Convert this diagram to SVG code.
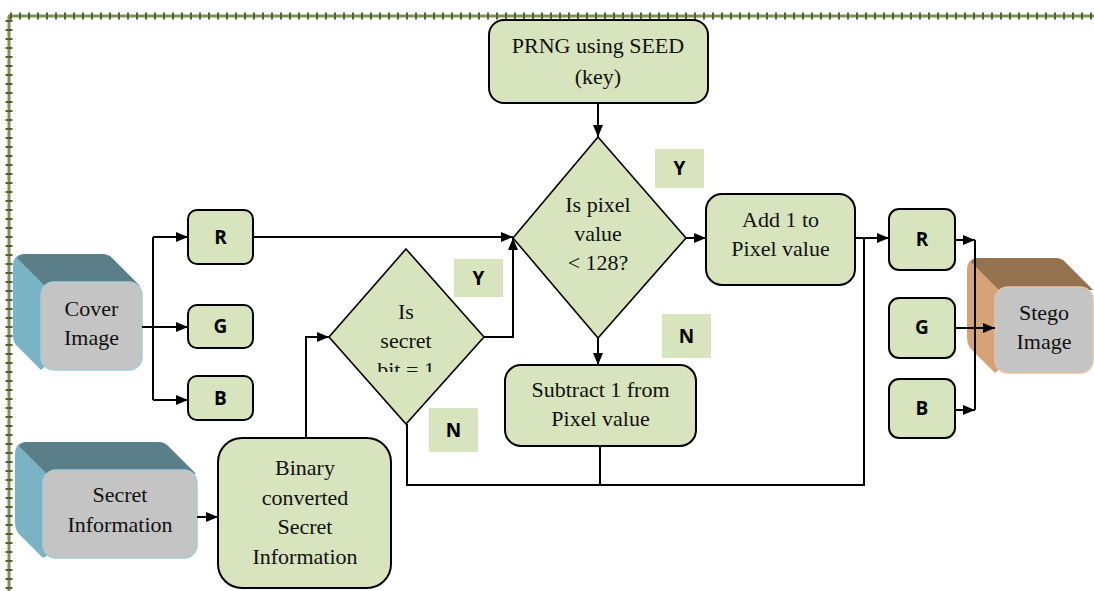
<svg xmlns="http://www.w3.org/2000/svg" width="1094" height="591" viewBox="0 0 1094 591">
  <defs>
    <style>
      .box { fill: #d7e4bd; stroke: #000; stroke-width: 2; }
      .dia { fill: #d7e4bd; stroke: #000; stroke-width: 1.6; }
      .lbl { fill: #d7e4bd; stroke: none; }
      .t { font-family: "Liberation Serif", "Times New Roman", serif; font-size: 22px; fill: #111; text-anchor: middle; }
      .b { font-family: "Open Sans", "Liberation Sans", sans-serif; font-weight: 700; font-size: 19px; fill: #000; text-anchor: middle; }
      .ln { fill: none; stroke: #000; stroke-width: 2; }
      .arr { marker-end: url(#ah); }
      .rail { fill: none; stroke: #7d9158; stroke-width: 3; }
      .tick { fill: none; stroke: #4f6230; stroke-width: 7; stroke-dasharray: 2 7; }
      .front { fill: #c4c4c4; stroke: #a9cbd6; stroke-width: 1.5; }
      .frontS { fill: #c4c4c4; stroke: #e3c3a3; stroke-width: 1.5; }
    </style>
    <marker id="ah" viewBox="0 0 12 10" refX="12" refY="5" markerWidth="12" markerHeight="10" markerUnits="userSpaceOnUse" orient="auto">
      <path d="M0,0 L12,5 L0,10 z" fill="#000"/>
    </marker>
    <clipPath id="clipBit">
      <rect x="330" y="250" width="160" height="122"/>
    </clipPath>
  </defs>

  <!-- page border rail -->
  <g id="border">
    <path class="rail" d="M8,16 H1094 M9,16 V591"/>
    <path class="tick" d="M10,16 H1094"/>
    <path class="tick" d="M9,20 V591"/>
  </g>

  <!-- cover image block -->
  <g id="cover-image">
    <path d="M25,254 H102 Q108,254 112,258 L138,284 L41,370 L17,346 Q13,342 13,334 V266 Q13,254 25,254 z" fill="#7ab4c4"/>
    <path d="M25,254 H102 Q108,254 112,258 L140,286 H45 L17,258 Q20,254 25,254 z" fill="#5a7f88"/>
    <rect class="front" x="41" y="282" width="101" height="88" rx="13"/>
    <text class="t" x="91.5" y="316">Cover</text>
    <text class="t" x="91.5" y="345">Image</text>
  </g>

  <!-- secret information block -->
  <g id="secret-info">
    <path d="M27,442 H158 Q164,442 168,446 L194,472 L43,558 L19,534 Q15,530 15,522 V454 Q15,442 27,442 z" fill="#7ab4c4"/>
    <path d="M27,442 H158 Q164,442 168,446 L196,474 H47 L19,446 Q22,442 27,442 z" fill="#5a7f88"/>
    <rect class="front" x="43" y="470" width="154" height="88" rx="13"/>
    <text class="t" x="120" y="502">Secret</text>
    <text class="t" x="120" y="532">Information</text>
  </g>

  <!-- left channel boxes -->
  <g id="r-in">
    <rect class="box" x="188" y="210" width="65" height="54" rx="9"/>
    <text class="b" x="220.5" y="244">R</text>
  </g>
  <g id="g-in">
    <rect class="box" x="188" y="305" width="65" height="43" rx="9"/>
    <text class="b" x="220.5" y="333">G</text>
  </g>
  <g id="b-in">
    <rect class="box" x="188" y="376" width="65" height="44" rx="9"/>
    <text class="b" x="220.5" y="405">B</text>
  </g>

  <!-- binary conversion -->
  <g id="binary">
    <rect class="box" x="218" y="438" width="173" height="150" rx="24"/>
    <text class="t" x="305" y="475">Binary</text>
    <text class="t" x="305" y="505">converted</text>
    <text class="t" x="305" y="534">Secret</text>
    <text class="t" x="305" y="564">Information</text>
  </g>

  <!-- secret bit decision -->
  <g id="bit-check">
    <path class="dia" d="M406,249 L484,337 L406,424 L329,337 z"/>
    <text class="t" x="406" y="319">Is</text>
    <text class="t" x="406" y="348">secret</text>
    <text class="t" x="406" y="377" clip-path="url(#clipBit)">bit = 1</text>
  </g>
  <g id="lbl-y1">
    <rect class="lbl" x="454" y="259" width="49" height="38"/>
    <text class="b" x="478.5" y="285">Y</text>
  </g>
  <g id="lbl-n1">
    <rect class="lbl" x="429" y="408" width="49" height="44"/>
    <text class="b" x="453.5" y="437">N</text>
  </g>

  <!-- PRNG -->
  <g id="prng">
    <rect class="box" x="489" y="20" width="219" height="83" rx="15"/>
    <text class="t" x="598" y="53">PRNG using SEED</text>
    <text class="t" x="598" y="84">(key)</text>
  </g>

  <!-- pixel value decision -->
  <g id="pixel-check">
    <path class="dia" d="M598,137 L686,238 L598,338 L513,238 z"/>
    <text class="t" x="598" y="212">Is pixel</text>
    <text class="t" x="598" y="241">value</text>
    <text class="t" x="598" y="270">&lt; 128?</text>
  </g>
  <g id="lbl-y2">
    <rect class="lbl" x="655" y="149" width="49" height="39"/>
    <text class="b" x="679.5" y="175">Y</text>
  </g>
  <g id="lbl-n2">
    <rect class="lbl" x="662" y="314" width="49" height="44"/>
    <text class="b" x="686.5" y="343">N</text>
  </g>

  <!-- add / subtract -->
  <g id="add">
    <rect class="box" x="706" y="194" width="149" height="91" rx="16"/>
    <text class="t" x="780.5" y="227">Add 1 to</text>
    <text class="t" x="780.5" y="256">Pixel value</text>
  </g>
  <g id="subtract">
    <rect class="box" x="505" y="365" width="191" height="81" rx="16"/>
    <text class="t" x="600.5" y="397">Subtract 1 from</text>
    <text class="t" x="600.5" y="426">Pixel value</text>
  </g>

  <!-- right channel boxes -->
  <g id="r-out">
    <rect class="box" x="889" y="209" width="66" height="61" rx="10"/>
    <text class="b" x="922" y="246">R</text>
  </g>
  <g id="g-out">
    <rect class="box" x="889" y="298" width="66" height="60" rx="10"/>
    <text class="b" x="922" y="334">G</text>
  </g>
  <g id="b-out">
    <rect class="box" x="889" y="379" width="66" height="59" rx="10"/>
    <text class="b" x="922" y="415">B</text>
  </g>

  <!-- stego image block -->
  <g id="stego-image">
    <path d="M979,258 H1055 Q1061,258 1065,262 L1091,288 L995,373 L971,349 Q967,345 967,337 V270 Q967,258 979,258 z" fill="#d6a378"/>
    <path d="M979,258 H1055 Q1061,258 1065,262 L1093,290 H999 L971,262 Q974,258 979,258 z" fill="#94714f"/>
    <rect class="frontS" x="995" y="287" width="98" height="86" rx="13"/>
    <text class="t" x="1044" y="320">Stego</text>
    <text class="t" x="1044" y="349">Image</text>
  </g>

  <!-- connectors -->
  <g id="connectors">
    <path class="ln arr" d="M598,103 V137"/>
    <path class="ln" d="M142,327 H153 M153,237 V400"/>
    <path class="ln arr" d="M153,237 H188"/>
    <path class="ln arr" d="M153,327 H188"/>
    <path class="ln arr" d="M153,400 H188"/>
    <path class="ln arr" d="M253,237 H513"/>
    <path class="ln arr" d="M197,517 H218"/>
    <path class="ln arr" d="M306,438 V337 H329"/>
    <path class="ln arr" d="M484,337 H513 V238"/>
    <path class="ln arr" d="M686,238 H706"/>
    <path class="ln arr" d="M598,338 V365"/>
    <path class="ln arr" d="M855,238 H889"/>
    <path class="ln" d="M407,424 V485 H864 V238 M600,446 V485"/>
    <path class="ln" d="M975,240 V410"/>
    <path class="ln arr" d="M955,240 H975"/>
    <path class="ln arr" d="M955,410 H975"/>
    <path class="ln arr" d="M955,328 H995"/>
  </g>
</svg>
